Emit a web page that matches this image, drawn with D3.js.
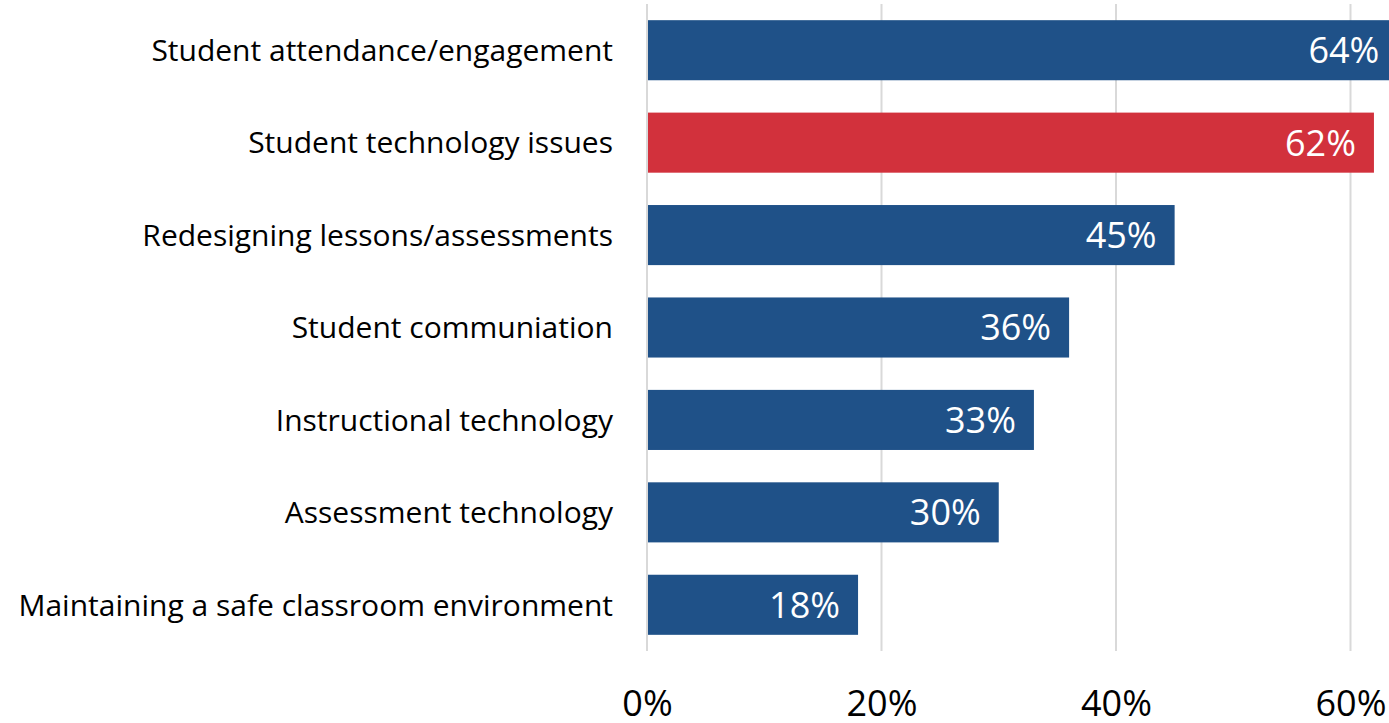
<!DOCTYPE html>
<html>
<head>
<meta charset="utf-8">
<script src="https://cdn.jsdelivr.net/npm/d3@7"></script>
<style>
  body { margin: 0; background: #fff; overflow: hidden; }
  svg text { font-family: "Open Sans", "Noto Sans", sans-serif; }
</style>
</head>
<body>
<div id="chart"></div>
<script>
var categories = [
	"Student attendance/engagement",
	"Student technology issues",
	"Redesigning lessons/assessments",
	"Student communiation",
	"Instructional technology",
	"Assessment technology",
	"Maintaining a safe classroom environment"
];
var values = [0.64, 0.62, 0.45, 0.36, 0.33, 0.30, 0.18];
var highlighted = ["Student technology issues"];
var xTicks = [0, 0.2, 0.4, 0.6];

var width = 1389, height = 723;

var svg = d3.select("#chart").append("svg")
	.attr("width", width)
	.attr("height", height);

var x = d3.scaleLinear()
	.domain([0, 0.6])
	.range([647, 1350.5]);

var y = d3.scaleBand()
	.domain(categories)
	.range([4, 651])
	.paddingInner(0.35)
	.paddingOuter(0.175);

var fmt = d3.format(".0%");

// grid lines
svg.append("g")
	.selectAll("line")
	.data(xTicks)
	.enter().append("line")
	.attr("x1", function(d){ return x(d); })
	.attr("x2", function(d){ return x(d); })
	.attr("y1", 4)
	.attr("y2", 651)
	.attr("stroke", "#d9d9d9")
	.attr("stroke-width", 2);

// bars
var rows = categories.map(function(c, i){ return {name: c, value: values[i]}; });

svg.append("g")
	.selectAll("rect")
	.data(rows)
	.enter().append("rect")
	.attr("x", x(0) + 1)
	.attr("y", function(d){ return y(d.name); })
	.attr("width", function(d){ return x(d.value) - x(0) - 1; })
	.attr("height", y.bandwidth())
	.attr("fill", function(d){ return highlighted.indexOf(d.name) >= 0 ? "#d2313c" : "#1f5188"; });

// value labels
svg.append("g")
	.selectAll("text")
	.data(rows)
	.enter().append("text")
	.attr("x", function(d){ return x(d.value) - 18; })
	.attr("y", function(d){ return y(d.name) + y.bandwidth() / 2; })
	.attr("dy", "0.36em")
	.attr("text-anchor", "end")
	.attr("fill", "#fff")
	.style("font-size", "36px")
	.text(function(d){ return fmt(d.value); });

// category labels
var yAxis = d3.axisLeft(y).tickSize(0).tickPadding(0);
svg.append("g")
	.attr("transform", "translate(613,0)")
	.call(yAxis)
	.call(function(g){ g.select(".domain").remove(); })
	.selectAll("text")
	.attr("fill", "#000")
	.attr("dy", "0.36em")
	.style("font-size", "30px")
	.style("font-family", "'Open Sans', 'Noto Sans', sans-serif");

// x axis tick labels
var xAxis = d3.axisBottom(x).tickValues(xTicks).tickFormat(fmt).tickSize(0).tickPadding(0);
svg.append("g")
	.attr("transform", "translate(0,716)")
	.call(xAxis)
	.call(function(g){ g.select(".domain").remove(); })
	.selectAll("text")
	.attr("fill", "#000")
	.attr("dy", 0)
	.style("font-size", "36px")
	.style("font-family", "'Open Sans', 'Noto Sans', sans-serif");
</script>
</body>
</html>
